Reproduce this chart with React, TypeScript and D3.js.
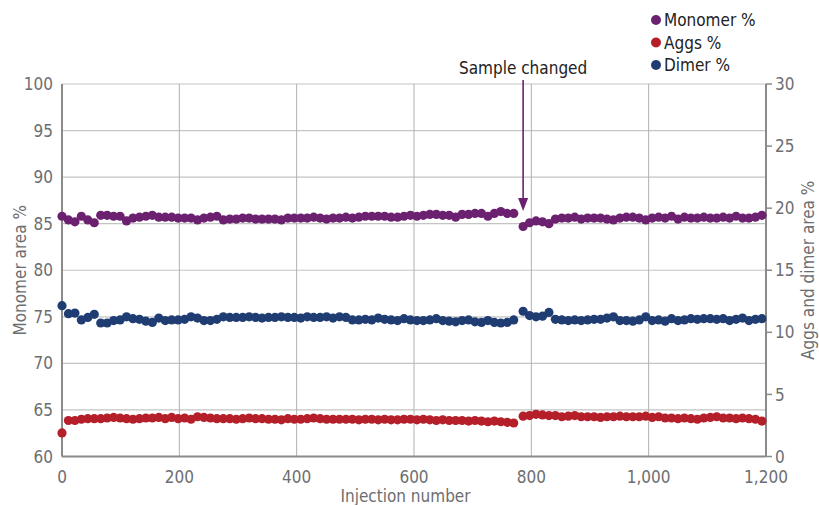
import React from 'react';
import * as d3 from 'd3';

// injection numbers: one run up to the sample change, one after it
const injBefore = d3.range(0, 771, 11);
const injAfter = d3.range(786, 1194, 11);

// Monomer % (left axis)
const monomerBefore = [
  85.8, 85.4, 85.2, 85.8, 85.4, 85.1, 85.9, 85.9, 85.8, 85.8, 85.3, 85.6, 85.7, 85.8, 85.9, 85.7, 85.7, 85.7,
  85.6, 85.6, 85.6, 85.4, 85.6, 85.7, 85.8, 85.4, 85.5, 85.5, 85.6, 85.6, 85.5, 85.5, 85.5, 85.5, 85.4, 85.6,
  85.6, 85.6, 85.6, 85.7, 85.6, 85.5, 85.6, 85.6, 85.7, 85.6, 85.7, 85.8, 85.8, 85.8, 85.8, 85.7, 85.7, 85.8,
  85.9, 85.8, 85.9, 86.0, 86.0, 85.9, 85.9, 85.7, 86.0, 86.0, 86.1, 86.1, 85.8, 86.1, 86.3, 86.1, 86.1,
];
const monomerAfter = [
  84.7, 85.1, 85.3, 85.2, 85.0, 85.5, 85.6, 85.6, 85.7, 85.5, 85.6, 85.6, 85.6, 85.5, 85.4, 85.6, 85.7, 85.7,
  85.6, 85.4, 85.6, 85.7, 85.6, 85.8, 85.5, 85.7, 85.6, 85.6, 85.7, 85.6, 85.6, 85.7, 85.6, 85.8, 85.6, 85.6,
  85.7, 85.9,
];

// Aggs % (right axis)
const aggsBefore = [
  1.9, 2.9, 2.9, 3.0, 3.05, 3.05, 3.05, 3.1, 3.15, 3.1, 3.05, 3.0, 3.05, 3.1, 3.1, 3.15, 3.05, 3.15,
  3.05, 3.1, 3.0, 3.2, 3.15, 3.1, 3.05, 3.05, 3.05, 3.0, 3.05, 3.1, 3.05, 3.05, 3.0, 3.0, 2.95, 3.05,
  3.0, 3.0, 3.05, 3.1, 3.05, 3.0, 3.0, 3.0, 3.0, 3.0, 2.95, 3.0, 3.0, 2.95, 3.0, 2.95, 2.95, 3.0,
  3.0, 2.95, 3.0, 2.95, 2.9, 2.95, 2.9, 2.9, 2.9, 2.85, 2.9, 2.85, 2.8, 2.85, 2.8, 2.75, 2.7,
];
const aggsAfter = [
  3.25, 3.3, 3.4, 3.35, 3.3, 3.3, 3.2, 3.25, 3.3, 3.2, 3.2, 3.2, 3.15, 3.2, 3.2, 3.25, 3.2, 3.2,
  3.2, 3.25, 3.15, 3.2, 3.1, 3.1, 3.05, 3.1, 3.05, 3.0, 3.1, 3.15, 3.2, 3.1, 3.1, 3.05, 3.1, 3.05,
  3.0, 2.85,
];

// Dimer % (right axis)
const dimerBefore = [
  12.15, 11.5, 11.55, 11.0, 11.2, 11.45, 10.75, 10.75, 10.95, 11.0, 11.25, 11.1, 11.05, 10.9, 10.8, 11.15, 10.95, 11.0,
  11.0, 11.05, 11.25, 11.15, 10.95, 10.95, 11.05, 11.25, 11.2, 11.2, 11.2, 11.25, 11.2, 11.15, 11.2, 11.2, 11.25, 11.2,
  11.2, 11.15, 11.25, 11.2, 11.2, 11.25, 11.15, 11.25, 11.2, 11.0, 11.0, 11.05, 11.0, 11.15, 11.05, 11.0, 10.95, 11.1,
  11.0, 10.95, 10.95, 11.0, 11.1, 10.95, 10.9, 10.85, 10.95, 11.0, 10.85, 10.8, 10.95, 10.8, 10.75, 10.8, 11.0,
];
const dimerAfter = [
  11.7, 11.35, 11.25, 11.3, 11.6, 11.05, 11.0, 10.95, 11.0, 10.95, 11.0, 11.05, 11.05, 11.15, 11.25, 10.95, 10.95, 10.9,
  11.0, 11.25, 10.95, 11.0, 10.9, 11.1, 10.95, 11.0, 11.1, 11.05, 11.1, 11.1, 11.05, 11.1, 10.95, 11.05, 11.15, 10.95,
  11.05, 11.1,
];

const xTicks = [0, 200, 400, 600, 800, 1000, 1200];
const leftTicks = [60, 65, 70, 75, 80, 85, 90, 95, 100];
const rightTicks = [0, 5, 10, 15, 20, 25, 30];
const sampleChangedAt = 786;

const legendItems = [
  { label: 'Monomer %', color: '#6b2170' },
  { label: 'Aggs %', color: '#b41f2a' },
  { label: 'Dimer %', color: '#1f3d72' },
];

const W = 819;
const H = 505;
const margin = { top: 84, right: 53, bottom: 48.5, left: 62 };
const font = '"Liberation Sans Narrow", "DejaVu Sans Condensed", "Roboto", sans-serif';
const grey = '#6d6e71';

const zip = (xs: number[], ys: number[]) => ys.map((v, i) => ({ x: xs[i], y: v }));

export default function App() {
  const innerW = W - margin.left - margin.right;
  const innerH = H - margin.top - margin.bottom;

  const x = d3.scaleLinear().domain([0, 1200]).range([margin.left, margin.left + innerW]);
  const yL = d3.scaleLinear().domain([60, 100]).range([margin.top + innerH, margin.top]);
  const yR = d3.scaleLinear().domain([0, 30]).range([margin.top + innerH, margin.top]);

  const series = [
    { color: legendItems[0].color, y: yL, pts: [...zip(injBefore, monomerBefore), ...zip(injAfter, monomerAfter)] },
    { color: legendItems[1].color, y: yR, pts: [...zip(injBefore, aggsBefore), ...zip(injAfter, aggsAfter)] },
    { color: legendItems[2].color, y: yR, pts: [...zip(injBefore, dimerBefore), ...zip(injAfter, dimerAfter)] },
  ];

  const bottom = margin.top + innerH;
  const right = margin.left + innerW;
  const ax = x(sampleChangedAt);

  return (
    <svg width={W} height={H} style={{ position: 'absolute', left: 0, top: 0 }} fontFamily={font}>
      {/* gridlines */}
      {leftTicks.map((t) => (
        <line key={'h' + t} x1={margin.left} x2={right} y1={yL(t)} y2={yL(t)} stroke="#c4c4c4" strokeWidth={1.2} />
      ))}
      {xTicks.map((t) => (
        <line key={'v' + t} x1={x(t)} x2={x(t)} y1={margin.top} y2={bottom} stroke="#b0b0b0" strokeWidth={1} />
      ))}

      {/* axes */}
      <line x1={margin.left} x2={margin.left} y1={margin.top} y2={bottom} stroke="#8a8a8a" strokeWidth={2} />
      <line x1={right} x2={right} y1={margin.top} y2={bottom} stroke="#8a8a8a" strokeWidth={2} />
      <line x1={margin.left} x2={right} y1={bottom} y2={bottom} stroke="#8a8a8a" strokeWidth={2} />
      {rightTicks.map((t) => (
        <line key={'rt' + t} x1={right} x2={right + 6} y1={yR(t)} y2={yR(t)} stroke="#8a8a8a" strokeWidth={1.5} />
      ))}

      {/* tick labels */}
      {leftTicks.map((t) => (
        <text key={'lt' + t} x={margin.left - 9} y={yL(t)} dy="0.36em" textAnchor="end" fontSize={17} fill={grey}>
          {t}
        </text>
      ))}
      {rightTicks.map((t) => (
        <text key={'rl' + t} x={right + 9} y={yR(t)} dy="0.36em" textAnchor="start" fontSize={17} fill={grey}>
          {t}
        </text>
      ))}
      {xTicks.map((t) => (
        <text key={'xl' + t} x={x(t)} y={bottom + 20} dy="0.36em" textAnchor="middle" fontSize={17} fill={grey}>
          {d3.format(',')(t)}
        </text>
      ))}

      {/* axis titles */}
      <text x={W / 2 - 4} y={H - 3} textAnchor="middle" fontSize={17} fill={grey}>
        Injection number
      </text>
      <text transform={`translate(26,${yL(80)}) rotate(-90)`} textAnchor="middle" fontSize={17} fill={grey}>
        Monomer area %
      </text>
      <text transform={`translate(814,${yR(15)}) rotate(-90)`} textAnchor="middle" fontSize={17} fill={grey}>
        Aggs and dimer area %
      </text>

      {/* points */}
      {series.map((s, si) => (
        <g key={si} fill={s.color}>
          {s.pts.map((p, i) => (
            <circle key={i} cx={x(p.x)} cy={s.y(p.y)} r={4.6} />
          ))}
        </g>
      ))}

      {/* annotation */}
      <text x={ax} y={68} dy="0.36em" textAnchor="middle" fontSize={17} fill="#222">
        Sample changed
      </text>
      <line x1={ax} x2={ax} y1={80} y2={201} stroke="#6b2170" strokeWidth={1.6} />
      <path d={`M${ax - 5},${198} L${ax + 5},${198} L${ax},${211} Z`} fill="#6b2170" />

      {/* legend */}
      {legendItems.map((d, i) => (
        <g key={d.label} transform={`translate(656,${20 + i * 22.5})`}>
          <circle cx={0} cy={0} r={5} fill={d.color} />
          <text x={8} y={0} dy="0.36em" fontSize={17} fill="#222">
            {d.label}
          </text>
        </g>
      ))}
    </svg>
  );
}
